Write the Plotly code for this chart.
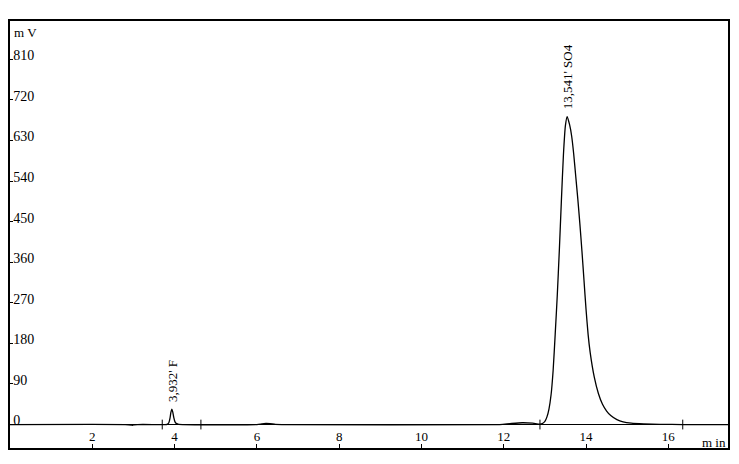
import plotly.graph_objects as go

# Chromatogram trace (min, mV)
time_min = [0.0, 2.80, 2.95, 2.98, 3.02, 3.10, 3.70, 3.82, 3.86, 3.89, 3.91, 3.932, 3.955, 3.98, 4.01, 4.05, 4.10, 4.20,
            6.00, 6.12, 6.22, 6.32, 6.45, 6.60, 11.90, 12.15, 12.45, 12.70, 12.88, 12.95,
            13.00, 13.05, 13.10, 13.15, 13.20, 13.25, 13.30, 13.35, 13.40, 13.45, 13.50, 13.541,
            13.60, 13.65, 13.70, 13.75, 13.80, 13.85, 13.90, 13.95, 14.00, 14.05, 14.10, 14.20, 14.30,
            14.40, 14.50, 14.60, 14.75, 14.90, 15.10, 15.40, 15.80, 16.35, 17.45]
signal_mv = [0.0, 0.0, -1.0, -1.5, -0.5, 0.0, 0.0, 0.3, 4.0, 15.0, 27.0, 34.0, 28.0, 16.0, 6.0, 2.0, 0.5, 0.0,
             0.0, 1.5, 2.5, 2.0, 0.5, 0.0, 0.0, 2.0, 4.0, 3.0, 1.0, 3.0,
             7.0, 17.0, 35.0, 66.0, 120.0, 200.0, 285.0, 385.0, 495.0, 598.0, 664.0, 683.0,
             665.0, 640.0, 600.0, 550.0, 500.0, 445.0, 385.0, 320.0, 255.0, 200.0, 160.0, 105.0, 69.0,
             45.0, 30.0, 20.0, 11.0, 6.0, 3.0, 1.5, 0.5, 0.0, 0.0]

# Integration markers (min)
marker_times = [3.70, 4.64, 12.88, 16.35]

# Peak labels
peak_times = [3.932, 13.541]
peak_heights = [34.0, 683.0]
peak_labels = ["3,932' F", "13,541' SO4"]

y_ticks = [0, 90, 180, 270, 360, 450, 540, 630, 720, 810]
x_ticks = [2, 4, 6, 8, 10, 12, 14, 16]

serif = "Liberation Serif, Times New Roman, serif"

fig = go.Figure()
fig.add_trace(go.Scatter(x=time_min, y=signal_mv, mode="lines",
                         line=dict(color="black", width=1.3, shape="spline", smoothing=0.6),
                         hoverinfo="skip", showlegend=False))
fig.add_trace(go.Scatter(x=marker_times, y=[0] * len(marker_times), mode="markers",
                         marker=dict(symbol="line-ns", size=7, line=dict(color="black", width=1)),
                         hoverinfo="skip", showlegend=False))

for t, h, lab in zip(peak_times, peak_heights, peak_labels):
    fig.add_annotation(x=t, y=h, text=lab, showarrow=False, textangle=-90,
                       xanchor="center", yanchor="bottom", yshift=5,
                       font=dict(family=serif, size=13, color="black"))

fig.add_annotation(xref="paper", yref="paper", x=0.003, y=0.995, text="m V", showarrow=False,
                   xanchor="left", yanchor="top", font=dict(family=serif, size=13, color="black"))
fig.add_annotation(xref="paper", yref="paper", x=1.0, y=0.0, text="m in", showarrow=False,
                   xanchor="right", yanchor="bottom", yshift=-4,
                   font=dict(family=serif, size=13, color="black"))

fig.update_xaxes(range=[0, 17.45], tickvals=x_ticks, ticktext=[str(v) for v in x_ticks],
                 ticks="inside", ticklen=4, tickcolor="black", ticklabelposition="inside",
                 showline=True, linecolor="black", linewidth=2, mirror=True,
                 showgrid=False, zeroline=False,
                 tickfont=dict(family=serif, size=13, color="black"))
fig.update_yaxes(range=[-52, 895], tickvals=y_ticks, ticktext=[str(v) for v in y_ticks],
                 ticks="inside", ticklen=3, tickcolor="black", ticklabelposition="inside",
                 ticklabelshift=-4,
                 showline=True, linecolor="black", linewidth=2, mirror=True,
                 showgrid=False, zeroline=True, zerolinecolor="black", zerolinewidth=1.3,
                 tickfont=dict(family=serif, size=14, color="black"))

fig.update_layout(width=731, height=456, margin=dict(l=2, r=11, t=13, b=16),
                  paper_bgcolor="white", plot_bgcolor="white")
fig.write_html("out.html")
